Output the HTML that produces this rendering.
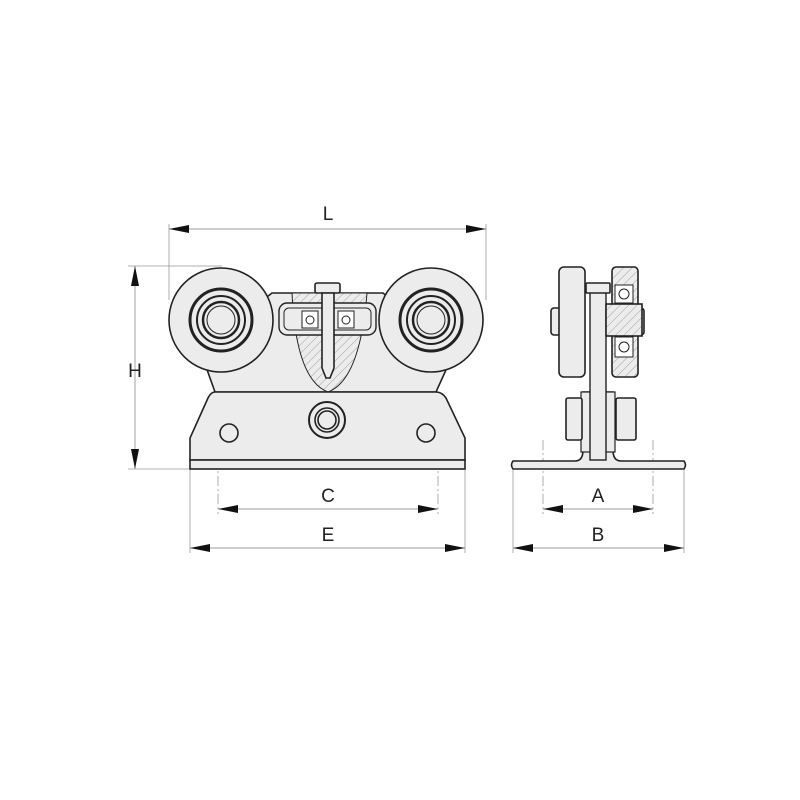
<!DOCTYPE html>
<html><head><style>body{margin:0;background:#fff}svg{display:block}</style></head><body>
<svg width="800" height="800" viewBox="0 0 800 800" xmlns="http://www.w3.org/2000/svg">
<defs>
<pattern id="h" width="6" height="6" patternUnits="userSpaceOnUse" patternTransform="rotate(45)"><rect width="6" height="6" fill="#ececec"/><line x1="0" y1="0" x2="0" y2="6" stroke="#888" stroke-width="0.8"/></pattern>
<marker id="a" viewBox="0 0 20 8" refX="20" refY="4" markerWidth="20" markerHeight="8" orient="auto-start-reverse" markerUnits="userSpaceOnUse"><path d="M0,0 L20,4 L0,8z" fill="#111"/></marker>
</defs>
<g stroke="#999" stroke-width="0.8" fill="none">
<line x1="169" y1="224" x2="169" y2="300"/><line x1="486" y1="224" x2="486" y2="300"/>
<line x1="128" y1="266" x2="222" y2="266"/><line x1="128" y1="469" x2="190" y2="469"/>
<line x1="190" y1="470" x2="190" y2="553"/><line x1="465" y1="470" x2="465" y2="553"/>
<line x1="218" y1="440" x2="218" y2="514" stroke-dasharray="10,3,2,3"/><line x1="438" y1="440" x2="438" y2="514" stroke-dasharray="10,3,2,3"/>
<line x1="513" y1="470" x2="513" y2="553"/><line x1="684" y1="470" x2="684" y2="553"/>
<line x1="543" y1="440" x2="543" y2="514" stroke-dasharray="10,3,2,3"/><line x1="653" y1="440" x2="653" y2="514" stroke-dasharray="10,3,2,3"/>
</g>
<g stroke="#999" stroke-width="0.9">
<line x1="169" y1="229" x2="486" y2="229" marker-start="url(#a)" marker-end="url(#a)"/>
<line x1="135" y1="266" x2="135" y2="469" marker-start="url(#a)" marker-end="url(#a)"/>
<line x1="218" y1="509" x2="438" y2="509" marker-start="url(#a)" marker-end="url(#a)"/>
<line x1="190" y1="548" x2="465" y2="548" marker-start="url(#a)" marker-end="url(#a)"/>
<line x1="543" y1="509" x2="653" y2="509" marker-start="url(#a)" marker-end="url(#a)"/>
<line x1="513" y1="548" x2="684" y2="548" marker-start="url(#a)" marker-end="url(#a)"/>
</g>
<g font-family="Liberation Sans, sans-serif" font-size="19" fill="#222" text-anchor="middle">
<text x="328" y="220">L</text><text x="135" y="377">H</text>
<text x="328" y="502">C</text><text x="328" y="541">E</text>
<text x="598" y="502">A</text><text x="598" y="541">B</text>
</g>
<g stroke="#222" stroke-width="1.6" fill="#ececec">
<!-- bracket -->
<path d="M200,350 L215,392 L436,392 L455,350 L383,293 L272,293 Z"/>
<path d="M292,293 L367,293 Q360,380 328,392 Q296,380 292,293 Z" fill="url(#h)" stroke-width="1"/>
<rect x="279" y="303" width="97" height="32" rx="8" stroke-width="1.4"/>
<rect x="284" y="308" width="87" height="22" rx="5" stroke-width="1"/>
<rect x="302" y="311" width="16" height="17" fill="#fff" stroke-width="1"/>
<rect x="338" y="311" width="16" height="17" fill="#fff" stroke-width="1"/>
<circle cx="310" cy="320" r="4" fill="#fff" stroke-width="1"/><circle cx="346" cy="320" r="4" fill="#fff" stroke-width="1"/>
<rect x="315" y="283" width="25" height="10" rx="2"/>
<path d="M322,293 H334 V368 L330,378 H326 L322,368 Z"/>
<!-- base -->
<path d="M215,392 H436 Q442,392 446,398 L465,438 V460 H190 V438 L208,398 Q211,392 215,392 Z"/>
<rect x="190" y="460" width="275" height="9"/>
<circle cx="229" cy="433" r="9"/><circle cx="426" cy="433" r="9"/>
<circle cx="327" cy="420" r="18" stroke-width="2"/><circle cx="327" cy="420" r="12"/><circle cx="327" cy="420" r="9"/>
<!-- wheels -->
<circle cx="221" cy="320" r="52"/><circle cx="431" cy="320" r="52"/>
<circle cx="221" cy="320" r="31" stroke-width="3"/><circle cx="221" cy="320" r="24" stroke-width="2"/><circle cx="221" cy="320" r="18" stroke-width="2.5"/><circle cx="221" cy="320" r="14" stroke-width="1"/>
<circle cx="431" cy="320" r="31" stroke-width="3"/><circle cx="431" cy="320" r="24" stroke-width="2"/><circle cx="431" cy="320" r="18" stroke-width="2.5"/><circle cx="431" cy="320" r="14" stroke-width="1"/>
<!-- side view -->
<path d="M513,461 H575 Q583,461 583,450 V392 H613 V450 Q613,461 621,461 H684 Q687,465 684,469 H513 Q510,465 513,461 Z"/>
<rect x="581" y="392" width="34" height="60" stroke-width="1.2"/>
<rect x="566" y="398" width="16" height="42" rx="2"/><rect x="616" y="398" width="20" height="42" rx="2"/>
<rect x="551" y="308" width="10" height="27" rx="3"/>
<rect x="559" y="267" width="26" height="110" rx="5"/>
<rect x="590" y="286" width="16" height="174" stroke-width="1.4"/>
<rect x="586" y="283" width="24" height="10" rx="1"/>
<rect x="612" y="267" width="26" height="110" rx="4" fill="url(#h)"/>
<rect x="636" y="308" width="8" height="27" rx="3"/>
<rect x="606" y="304" width="36" height="32" fill="url(#h)"/>
<rect x="615" y="285" width="18" height="18" fill="#fff" stroke-width="1"/><circle cx="624" cy="294" r="5" fill="#fff" stroke-width="1"/>
<rect x="615" y="337" width="18" height="20" fill="#fff" stroke-width="1"/><circle cx="624" cy="347" r="5" fill="#fff" stroke-width="1"/>
</g>
</svg>
</body></html>
